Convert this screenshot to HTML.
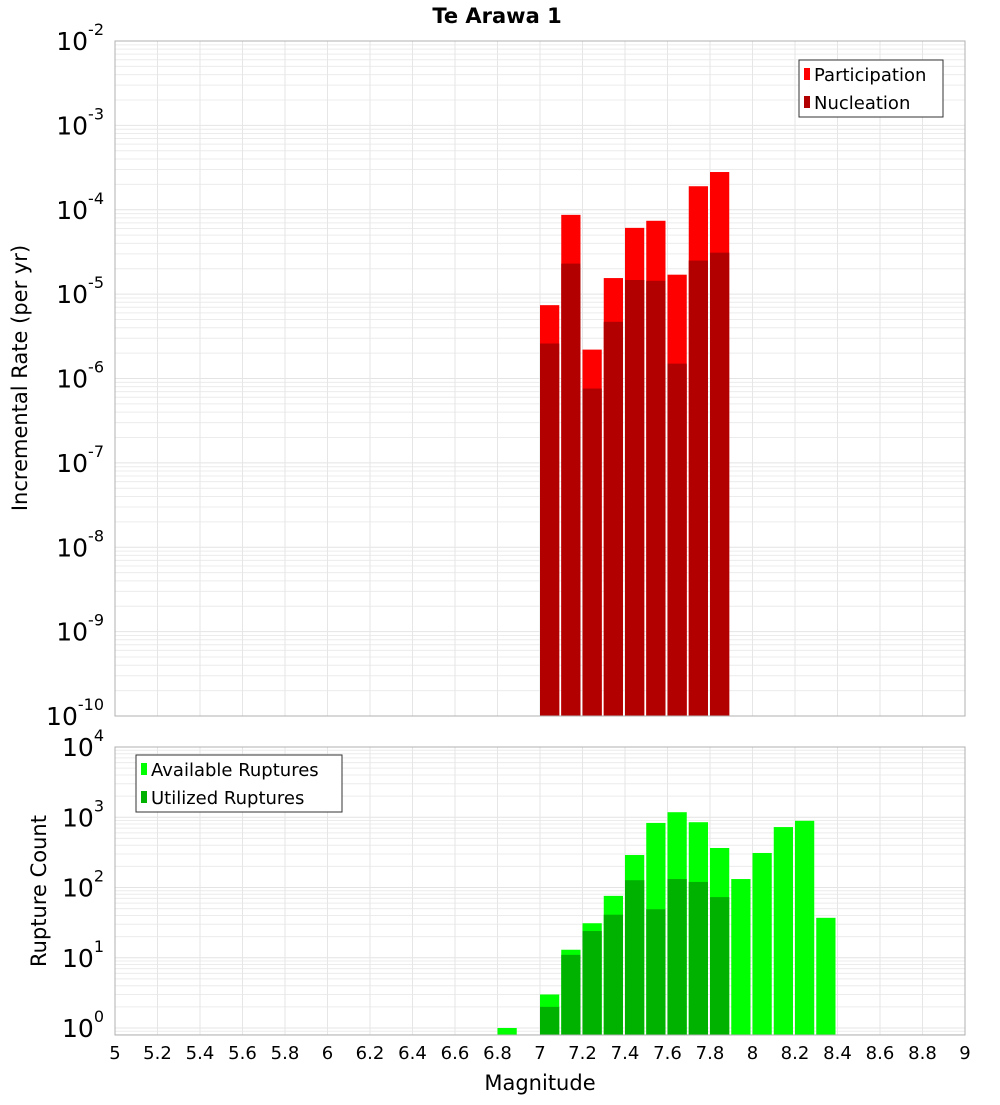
<!DOCTYPE html>
<html><head><meta charset="utf-8"><style>
body{margin:0;background:#fff;}
svg text{font-family:"DejaVu Sans","Liberation Sans",sans-serif;}
</style></head><body>
<svg id="c" width="1000" height="1100" xmlns="http://www.w3.org/2000/svg">
<text x="497" y="23" text-anchor="middle" font-size="21" font-weight="bold">Te Arawa 1</text>
<text transform="translate(27,378) rotate(-90)" text-anchor="middle" font-size="21">Incremental Rate (per yr)</text>
<text transform="translate(46,891) rotate(-90)" text-anchor="middle" font-size="21">Rupture Count</text>
<text x="540" y="1090" text-anchor="middle" font-size="21">Magnitude</text>
<g id="top"></g><g id="bot"></g>
</svg>
<script>
const topMags=[7.0,7.1,7.2,7.3,7.4,7.5,7.6,7.7,7.8];
const participation=[7.4e-6,8.7e-5,2.2e-6,1.55e-5,6.1e-5,7.4e-5,1.7e-5,1.9e-4,2.8e-4];
const nucleation=[2.6e-6,2.3e-5,7.6e-7,4.7e-6,1.47e-5,1.44e-5,1.5e-6,2.5e-5,3.1e-5];
const botMags=[6.8,7.0,7.1,7.2,7.3,7.4,7.5,7.6,7.7,7.8,7.9,8.0,8.1,8.2,8.3];
const available=[1,3,13,31,76,290,830,1180,850,365,132,310,725,890,37];
const utilized=[0,2,11,24,41,127,49,132,120,73,0,0,0,0,0];
const xTicks=[5,5.2,5.4,5.6,5.8,6,6.2,6.4,6.6,6.8,7,7.2,7.4,7.6,7.8,8,8.2,8.4,8.6,8.8,9];
const topExps=[-2,-3,-4,-5,-6,-7,-8,-9,-10];
const botExps=[4,3,2,1,0];
const NS="http://www.w3.org/2000/svg";
const X0=115,X1=965;
const x=m=>X0+(m-5)/4*(X1-X0);
function el(p,t,a){const e=document.createElementNS(NS,t);for(const k in a)e.setAttribute(k,a[k]);p.appendChild(e);return e;}
function panel(g,top,bot,yTopExp,pxDec,exps,name){
  const y=v=>top+(yTopExp-Math.log10(v))*pxDec;
  // grid
  const minExp=yTopExp-(bot-top)/pxDec;
  for(let e=Math.floor(minExp);e<yTopExp;e++){for(let k=1;k<10;k++){const v=k*Math.pow(10,e);const yy=y(v);if(yy<top||yy>bot)continue;
    const l=el(g,'line',{x1:X0,x2:X1,y1:yy,y2:yy,stroke:k==1?'#e4e4e4':'#ececec','stroke-width':1});
    }}
  xTicks.forEach(t=>{const l=el(g,'line',{x1:x(t),x2:x(t),y1:top,y2:bot,stroke:'#e6e6e6'});
    });
  exps.forEach(e=>{const yy=y(Math.pow(10,e));const t=el(g,'text',{x:104,y:yy+9,'text-anchor':'end','font-size':25});
    
    t.textContent='10';const s=el(t,'tspan',{dy:-15,'font-size':16});s.textContent=String(e);});
  return y;
}
const gt=document.getElementById('top'),gb=document.getElementById('bot');
const yT=panel(gt,41,716,-2,84.375,topExps,'top');
const yB=panel(gb,747,1035,4,70.25,botExps,'bottom');
function bars(g,mags,vals,col,y,bot,name){mags.forEach((m,i)=>{if(!vals[i])return;const yy=Math.max(y(vals[i]),0);
  const r=el(g,'rect',{x:x(m),y:yy,width:x(m+0.1)-x(m)-2,height:bot-yy,fill:col});
  });}
bars(gt,topMags,participation,'#ff0000',yT,716,'participation-bar');
bars(gt,topMags,nucleation,'#b20000',yT,716,'nucleation-bar');
bars(gb,botMags,available,'#00ff00',yB,1035,'available-bar');
bars(gb,botMags,utilized,'#00b200',yB,1035,'utilized-bar');
[[41,716],[747,1035]].forEach(([a,b])=>{const r=el(document.getElementById('c'),'rect',{x:X0,y:a,width:X1-X0,height:b-a,fill:'none',stroke:'#b0b0b0'});
  });
xTicks.forEach(t=>{const tx=el(gb,'text',{x:x(t),y:1059,'text-anchor':'middle','font-size':18});
  tx.textContent=String(t);});
function legend(bx,by,w,items){const svg=document.getElementById('c');
  const r=el(svg,'rect',{x:bx,y:by,width:w,height:57,fill:'#fff',stroke:'#333'});
  
  items.forEach(([lab,col],i)=>{const yy=by+14+i*28;
    const s=el(svg,'rect',{x:bx+5,y:yy-6,width:6,height:12,fill:col});
    
    const t=el(svg,'text',{x:bx+15,y:yy+7,'font-size':18});
    t.textContent=lab;});}
legend(799,60,144,[['Participation','#ff0000'],['Nucleation','#b20000']]);
legend(136,755,206,[['Available Ruptures','#00ff00'],['Utilized Ruptures','#00b200']]);
</script>
</body></html>
